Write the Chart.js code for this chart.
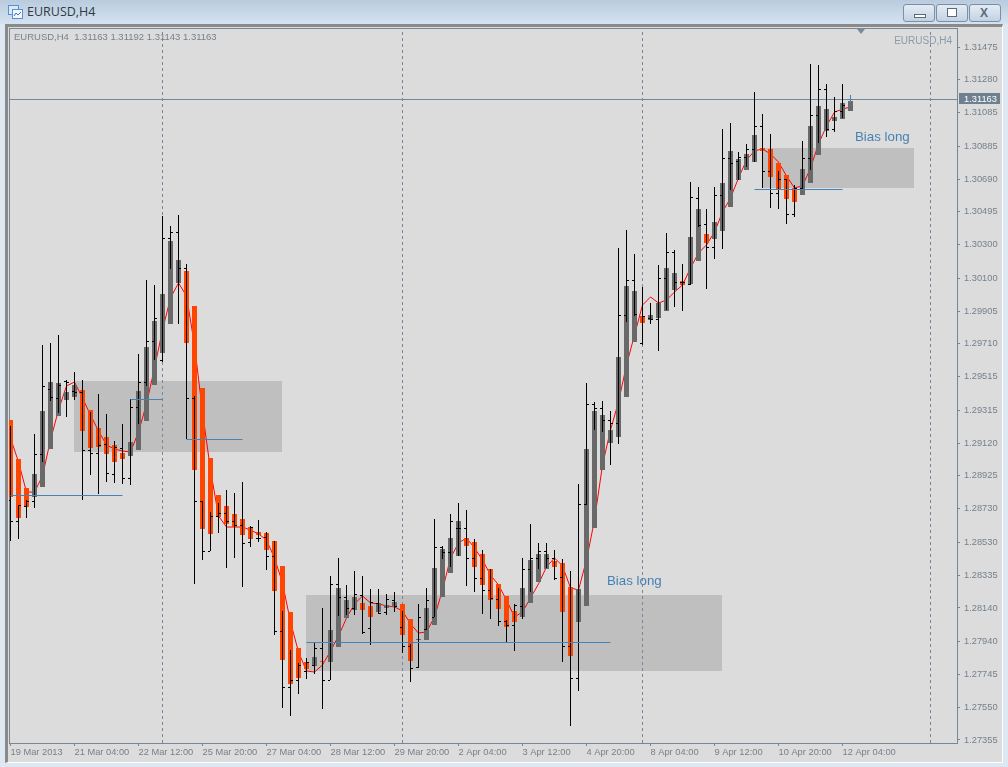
<!DOCTYPE html>
<html>
<head>
<meta charset="utf-8">
<title>EURUSD,H4</title>
<script src="https://cdn.jsdelivr.net/npm/chart.js@4/dist/chart.umd.min.js"></script>
<style>
  html, body { margin: 0; padding: 0; }
  body { width: 1008px; height: 767px; position: relative; overflow: hidden; background: #dde8f3; font-family: "Liberation Sans", sans-serif; }
  #titlebar { position: absolute; left: 0; top: 0; width: 1008px; height: 24px; background: linear-gradient(#b9cbdd, #d4e3f1); }
  #title { position: absolute; left: 27px; top: 3px; font: 12.5px "Open Sans", sans-serif; color: #303a44; }
  #icon { position: absolute; left: 8px; top: 5px; }
  .btn { position: absolute; top: 4px; width: 30px; height: 16px; border: 1px solid #7c8ea2; border-radius: 3px; background: linear-gradient(#e3ecf5, #c3d2e2); }
  .btn i { position: absolute; display: block; }
  #frame { position: absolute; left: 5px; top: 24px; width: 994px; height: 735px; background: #dcdcdc; border-left: 3px solid #8a8a8a; border-top: 3px solid #8a8a8a; border-right: 1px solid #fff; border-bottom: 1px solid #fff; }
  #plotbox { position: absolute; left: 9px; top: 28px; width: 947px; height: 714px; border: 1px solid #76879a; }
  canvas { position: absolute; left: 0; top: 0; }
  #header { position: absolute; left: 14px; top: 31px; font-size: 9.5px; color: #76818c; white-space: pre; }
  #mark { position: absolute; right: 56px; top: 35px; font-size: 10px; color: #8a9bab; }
  #shift { position: absolute; left: 857px; top: 29px; width: 0; height: 0; border-left: 4.5px solid transparent; border-right: 4.5px solid transparent; border-top: 5px solid #7c8a98; }
</style>
</head>
<body>
<div id="titlebar">
  <svg id="icon" width="15" height="14"><rect x="0.5" y="0.5" width="10" height="9" fill="#dbe8fa" stroke="#5a8fd8"/><rect x="4.5" y="4.5" width="10" height="9" fill="#f4f8fd" stroke="#5a8fd8"/><path d="M6 11 L8 8 L10 10 L13 7" fill="none" stroke="#3a6fb8"/></svg>
  <div id="title">EURUSD,H4</div>
  <div class="btn" style="left:903px"><i style="left:10px;top:9px;width:10px;height:2px;border:1px solid #5b6b7c;background:#fff"></i></div>
  <div class="btn" style="left:936px"><i style="left:10px;top:3px;width:8px;height:7px;border:1px solid #5b6b7c;background:#fff"></i></div>
  <div class="btn" style="left:969px"><i style="left:10px;top:2px;font:bold 12px 'Liberation Sans';color:#5b6b7c;font-style:normal;line-height:12px">X</i></div>
</div>
<div id="frame"></div>
<div id="plotbox"></div>
<canvas id="chart" width="1008" height="767"></canvas>
<div id="header">EURUSD,H4  1.31163 1.31192 1.31143 1.31163</div>
<div id="mark">EURUSD,H4</div>
<div id="shift"></div>
<script>
// price axis
var yTickLabels = [1.31475, 1.31280, 1.31085, 1.30885, 1.30690, 1.30495, 1.30300, 1.30100, 1.29905, 1.29710, 1.29515,
    1.29315, 1.29120, 1.28925, 1.28730, 1.28530, 1.28335, 1.28140, 1.27940, 1.27745, 1.27550, 1.27355];
var yMin = 1.27337, yMax = 1.31588;

// time axis, one tick every 8 bars
var timeLabels = ['19 Mar 2013', '21 Mar 04:00', '22 Mar 12:00', '25 Mar 20:00', '27 Mar 04:00', '28 Mar 12:00', '29 Mar 20:00',
    '2 Apr 04:00', '3 Apr 12:00', '4 Apr 20:00', '8 Apr 04:00', '9 Apr 12:00', '10 Apr 20:00', '12 Apr 04:00'];
var timeTickBars = [0, 8, 16, 24, 32, 40, 48, 56, 64, 72, 80, 88, 96, 104];

// OHLC bars
var highs = [1.29222,1.28752,1.28782,1.29174,1.29703,1.29715,1.29763,1.29495,1.29543,1.29495,
    1.29305,1.29412,1.29293,1.29133,1.29234,1.29382,1.29650,1.30090,1.30060,1.30470,
    1.30411,1.30476,1.30185,1.29400,1.28776,1.28711,1.28764,1.28841,1.28824,1.28889,
    1.28627,1.28663,1.28592,1.28538,1.28122,1.27890,1.27813,1.27843,1.27938,1.28140,
    1.28330,1.28437,1.28277,1.28360,1.28330,1.28253,1.28253,1.28223,1.28235,1.28122,
    1.27926,1.28164,1.28259,1.28669,1.28508,1.28699,1.28764,1.28722,1.28550,1.28485,
    1.28372,1.28259,1.28069,1.28164,1.28437,1.28639,1.28526,1.28526,1.28485,1.28431,
    1.28360,1.28877,1.29478,1.29365,1.29370,1.29311,1.30280,1.30387,1.30244,1.30048,
    1.29953,1.30179,1.30369,1.30268,1.30185,1.30672,1.30643,1.30512,1.30643,1.30988,
    1.31023,1.30851,1.30898,1.31208,1.31077,1.30958,1.30738,1.30690,1.30655,1.30916,
    1.31374,1.31368,1.31255,1.31178,1.31255,1.31192];
var lows = [1.28538,1.28550,1.28675,1.28734,1.29008,1.29370,1.29299,1.29275,1.29376,1.28782,
    1.28931,1.28818,1.28889,1.28883,1.28877,1.28871,1.29234,1.29460,1.29614,1.29602,
    1.30155,1.29828,1.29145,1.28283,1.28425,1.28479,1.28586,1.28378,1.28437,1.28265,
    1.28503,1.28532,1.28366,1.27979,1.27545,1.27498,1.27629,1.27718,1.27748,1.27539,
    1.27712,1.28092,1.28098,1.28098,1.27985,1.27920,1.28104,1.28098,1.28116,1.27872,
    1.27700,1.27783,1.28009,1.28086,1.28431,1.28384,1.28449,1.28271,1.28235,1.28104,
    1.28074,1.28033,1.27938,1.27884,1.28074,1.28235,1.28372,1.28378,1.28306,1.27819,
    1.27438,1.27646,1.28752,1.29198,1.29186,1.28990,1.29115,1.29840,1.29876,1.29703,
    1.29828,1.29668,1.29911,1.29929,1.29906,1.30060,1.30405,1.30036,1.30215,1.30274,
    1.30625,1.30684,1.30762,1.30791,1.30637,1.30518,1.30512,1.30423,1.30464,1.30625,
    1.30744,1.30904,1.30940,1.30970,1.31053,1.31143];
var opens = [1.28782,1.28657,1.28746,1.28776,1.29055,1.29442,1.29388,1.29489,1.29430,1.29424,
    1.29079,1.29061,1.29115,1.28937,1.29091,1.28913,1.29335,1.29483,1.29727,1.29614,
    1.30340,1.30375,1.30161,1.29388,1.28776,1.28479,1.28687,1.28705,1.28657,1.28633,
    1.28532,1.28556,1.28562,1.28449,1.28003,1.27670,1.27712,1.27765,1.27801,1.27902,
    1.27712,1.28283,1.28205,1.28140,1.28217,1.28021,1.28170,1.28116,1.28187,1.28027,
    1.27914,1.27789,1.28015,1.28086,1.28503,1.28473,1.28615,1.28615,1.28437,1.28318,
    1.28247,1.28193,1.28063,1.28039,1.28152,1.28372,1.28437,1.28479,1.28437,1.28324,
    1.27914,1.27724,1.28758,1.29353,1.29329,1.29257,1.29240,1.29882,1.30090,1.29715,
    1.29864,1.29858,1.30102,1.30256,1.30078,1.30066,1.30577,1.30423,1.30286,1.30595,
    1.30815,1.30797,1.30821,1.30869,1.31005,1.30738,1.30607,1.30690,1.30482,1.30637,
    1.30815,1.31071,1.31225,1.30988,1.31094,1.31163];
var closes = [1.28657,1.28752,1.28776,1.29055,1.29460,1.29394,1.29466,1.29483,1.29424,1.29079,
    1.29061,1.29109,1.28942,1.29097,1.28913,1.29335,1.29483,1.29727,1.29864,1.30340,
    1.30375,1.30161,1.29388,1.28776,1.28479,1.28687,1.28705,1.28657,1.28633,1.28526,
    1.28621,1.28556,1.28449,1.28003,1.27670,1.27712,1.27801,1.27819,1.27902,1.27712,
    1.28283,1.28205,1.28140,1.28223,1.27997,1.28176,1.28110,1.28193,1.28152,1.27914,
    1.27783,1.28086,1.28187,1.28503,1.28473,1.28657,1.28615,1.28437,1.28318,1.28247,
    1.28199,1.28063,1.28039,1.28158,1.28372,1.28437,1.28479,1.28437,1.28318,1.27914,
    1.27724,1.28758,1.29353,1.29329,1.29257,1.29240,1.29882,1.30090,1.29888,1.29876,
    1.29858,1.30102,1.30256,1.30078,1.30078,1.30583,1.30417,1.30286,1.30595,1.30815,
    1.30785,1.30821,1.30869,1.31005,1.30738,1.30607,1.30690,1.30482,1.30637,1.30815,
    1.31071,1.31225,1.30988,1.31094,1.31130,1.31163];

// thick candle bodies (orange when close < open)
var bodyOpens = [1.29257,1.29026,1.28853,1.28800,1.28859,1.29085,1.29281,1.29376,1.29394,1.29436,
    1.29317,1.29210,1.29156,1.29109,1.29061,1.29043,1.29079,1.29252,1.29466,1.29656,
    1.29828,1.30072,1.30143,1.29936,1.29448,1.29032,1.28812,1.28746,1.28699,1.28669,
    1.28621,1.28592,1.28586,1.28538,1.28390,1.28116,1.27902,1.27819,1.27795,1.27825,
    1.27819,1.27908,1.28080,1.28128,1.28170,1.28152,1.28116,1.28140,1.28146,1.28164,
    1.28074,1.27950,1.27950,1.28039,1.28205,1.28348,1.28449,1.28556,1.28532,1.28461,
    1.28372,1.28283,1.28211,1.28122,1.28086,1.28170,1.28294,1.28372,1.28419,1.28407,
    1.28265,1.28057,1.28152,1.28615,1.28960,1.29121,1.29156,1.29394,1.29721,1.29876,
    1.29852,1.29864,1.29906,1.30030,1.30084,1.30066,1.30203,1.30363,1.30333,1.30381,
    1.30524,1.30684,1.30744,1.30791,1.30874,1.30869,1.30785,1.30714,1.30637,1.30595,
    1.30666,1.30833,1.30976,1.31035,1.31047,1.31094];
var bodyCloses = [1.28800,1.28675,1.28740,1.28937,1.29311,1.29483,1.29478,1.29424,1.29466,1.29192,
    1.29091,1.29097,1.29055,1.29008,1.29026,1.29127,1.29430,1.29692,1.29846,1.30007,
    1.30321,1.30209,1.29715,1.28960,1.28611,1.28580,1.28681,1.28639,1.28621,1.28574,
    1.28550,1.28574,1.28485,1.28241,1.27831,1.27688,1.27724,1.27777,1.27849,1.27819,
    1.28009,1.28259,1.28187,1.28205,1.28128,1.28086,1.28170,1.28158,1.28176,1.27979,
    1.27825,1.27956,1.28140,1.28378,1.28491,1.28556,1.28657,1.28508,1.28384,1.28277,
    1.28187,1.28134,1.28027,1.28057,1.28259,1.28425,1.28461,1.28461,1.28384,1.28116,
    1.27855,1.28253,1.29085,1.29311,1.29287,1.29198,1.29632,1.30054,1.30024,1.29834,
    1.29882,1.29953,1.30161,1.30131,1.30060,1.30345,1.30512,1.30310,1.30435,1.30666,
    1.30857,1.30809,1.30839,1.30952,1.30857,1.30702,1.30631,1.30571,1.30554,1.30750,
    1.31005,1.31124,1.31106,1.31059,1.31142,1.31154];

// red moving average
var maValues = [1.29150,1.29008,1.28829,1.28829,1.28925,1.29139,1.29317,1.29460,1.29483,1.29388,
    1.29287,1.29192,1.29109,1.29085,1.29073,1.29067,1.29186,1.29353,1.29567,1.29793,
    1.29983,1.30072,1.29995,1.29703,1.29305,1.28960,1.28687,1.28621,1.28621,1.28621,
    1.28603,1.28580,1.28544,1.28437,1.28288,1.28057,1.27878,1.27765,1.27759,1.27801,
    1.27884,1.27973,1.28080,1.28164,1.28211,1.28170,1.28164,1.28152,1.28146,1.28122,
    1.28045,1.27991,1.27997,1.28086,1.28247,1.28437,1.28526,1.28556,1.28497,1.28425,
    1.28336,1.28277,1.28187,1.28086,1.28116,1.28199,1.28283,1.28384,1.28437,1.28390,
    1.28259,1.28247,1.28425,1.28663,1.28990,1.29198,1.29365,1.29584,1.29763,1.29941,
    1.29989,1.29953,1.29971,1.30018,1.30060,1.30161,1.30250,1.30298,1.30375,1.30494,
    1.30577,1.30696,1.30803,1.30857,1.30869,1.30839,1.30791,1.30708,1.30637,1.30649,
    1.30756,1.30898,1.31005,1.31088,1.31106,1.31118];

// drawn objects on the chart (x in bars)
var zoneStart = [7.94, 36.94, 93.94];
var zoneEnd = [33.94, 88.94, 112.94];
var zoneTop = [1.29489, 1.28217, 1.30874];
var zoneBottom = [1.29067, 1.27765, 1.30637];
var trendStart = [0, 15, 22, 37, 93];
var trendEnd = [14, 19, 29, 75, 104];
var trendPrice = [1.28812, 1.29382, 1.29145, 1.27938, 1.30631];
var separatorBars = [19, 49, 79, 115];
var biasLabels = ['Bias long', 'Bias long'];
var biasBars = [74.56, 105.56];
var biasPrices = [1.28277, 1.30916];
var lastPrice = 1.31163;

var xMin = -0.1875, xMax = 118.3125;
var tickShift = 0.1875;
var grey = '#696969', orange = '#ff4500', blue = '#4682b4', slate = '#76879a';

function lineSet(points, color, order, extra) {
    return Object.assign({
        type: 'line', data: points, borderColor: color, borderWidth: 1, pointRadius: 0,
        tension: 0, fill: false, order: order, snap: 'line'
    }, extra || {});
}

var datasets = [];

// grey zones
zoneStart.forEach(function (s, i) {
    datasets.push(lineSet([{ x: s, y: zoneTop[i] }, { x: zoneEnd[i], y: zoneTop[i] }], 'rgba(0,0,0,0)', 20, {
        fill: { target: { value: zoneBottom[i] } }, backgroundColor: '#bfbfbf', borderWidth: 0, snap: 'fill'
    }));
});

// period separators
separatorBars.forEach(function (b) {
    datasets.push(lineSet([{ x: b, y: yMin }, { x: b, y: yMax }], slate, 15, { borderDash: [3, 3], snap: null }));
});

// last price line
datasets.push(lineSet([{ x: xMin, y: lastPrice }, { x: xMax, y: lastPrice }], slate, 14));

// moving average
datasets.push(lineSet(maValues.map(function (v, i) { return { x: i, y: v }; }), '#ff0000', 12, { snap: null }));

// candle bodies
datasets.push({
    type: 'bar', order: 10, grouped: false, maxBarThickness: 5, barPercentage: 1, categoryPercentage: 1,
    inflateAmount: 0, borderWidth: 0, snap: 'bar',
    data: bodyOpens.map(function (v, i) { return { x: i, y: [v, bodyCloses[i]] }; }),
    backgroundColor: bodyOpens.map(function (v, i) { return bodyCloses[i] < v ? orange : grey; })
});

// high-low wicks, last forming bar in blue
datasets.push({
    type: 'bar', order: 9, grouped: false, maxBarThickness: 1, barPercentage: 1, categoryPercentage: 1,
    inflateAmount: 0, borderWidth: 0, snap: 'bar',
    data: highs.map(function (v, i) { return { x: i, y: [lows[i], v] }; }),
    backgroundColor: highs.map(function (v, i) { return i === highs.length - 1 ? blue : '#000'; })
});

// open ticks on the left, close ticks on the right
function tickSet(values, side) {
    return {
        type: 'line', showLine: false, order: 8, snap: 'line',
        data: values.map(function (v, i) { return { x: i + side * tickShift, y: v }; }),
        pointStyle: 'line', pointRadius: 1, pointBorderWidth: 1,
        pointBorderColor: values.map(function (v, i) { return i === values.length - 1 ? blue : '#000'; })
    };
}
datasets.push(tickSet(opens, -1));
datasets.push(tickSet(closes, 1));

// blue trend lines
trendStart.forEach(function (s, i) {
    datasets.push(lineSet([{ x: s, y: trendPrice[i] }, { x: trendEnd[i], y: trendPrice[i] }], blue, 5));
});

// keep the marks on whole pixels like the terminal does
var snapPlugin = {
    id: 'snap',
    afterDatasetsUpdate: function (chart) {
        chart.data.datasets.forEach(function (ds, n) {
            if (!ds.snap) return;
            chart.getDatasetMeta(n).data.forEach(function (el) {
                if (ds.snap === 'bar') {
                    el.y = Math.round(el.y);
                    el.base = Math.round(el.base);
                    if (el.y === el.base) el.base = el.y + 1;
                } else if (ds.snap === 'fill') {
                    el.y = Math.round(el.y);
                } else {
                    el.y = Math.round(el.y) + 0.5;
                }
            });
        });
    }
};

// "Bias long" text and the price box on the axis
var labelPlugin = {
    id: 'labels',
    afterDraw: function (chart) {
        var ctx = chart.ctx, xs = chart.scales.x, ys = chart.scales.y;
        ctx.save();
        ctx.font = '13.3px "Liberation Sans"';
        ctx.fillStyle = blue;
        ctx.textBaseline = 'alphabetic';
        biasLabels.forEach(function (t, i) {
            ctx.fillText(t, xs.getPixelForValue(biasBars[i]), ys.getPixelForValue(biasPrices[i]));
        });
        var py = Math.round(ys.getPixelForValue(lastPrice));
        ctx.fillStyle = '#6f8090';
        ctx.fillRect(959, py - 6, 41, 11);
        ctx.fillStyle = '#fff';
        ctx.font = '9.3px "Liberation Sans"';
        ctx.textBaseline = 'middle';
        ctx.fillText(lastPrice.toFixed(5), 964, py);
        ctx.restore();
    }
};

new Chart(document.getElementById('chart').getContext('2d'), {
    data: { datasets: datasets },
    plugins: [snapPlugin, labelPlugin],
    options: {
        responsive: false,
        animation: false,
        devicePixelRatio: 1,
        events: [],
        layout: { padding: { left: 9, top: 28, right: 0, bottom: 0 } },
        plugins: { legend: { display: false }, tooltip: { enabled: false }, title: { display: false } },
        scales: {
            x: {
                type: 'linear', min: xMin, max: xMax, offset: false,
                grid: { offset: false, drawOnChartArea: false, drawTicks: true, tickLength: 3, color: slate },
                border: { display: false },
                afterBuildTicks: function (scale) {
                    scale.ticks = timeTickBars.map(function (b) { return { value: b }; });
                },
                afterFit: function (scale) {
                    scale.height = 24;
                    scale.paddingLeft = 0;
                    scale.paddingRight = 0;
                },
                ticks: {
                    autoSkip: false, maxRotation: 0, minRotation: 0, align: 'start', padding: 1,
                    color: '#75818d', font: { family: '"Liberation Sans"', size: 9.3 },
                    callback: function (v, i) { return timeLabels[i]; }
                }
            },
            y: {
                type: 'linear', position: 'right', min: yMin, max: yMax,
                grid: { drawOnChartArea: false, drawTicks: true, tickLength: 3, color: slate },
                border: { display: false },
                afterBuildTicks: function (scale) {
                    scale.ticks = yTickLabels.map(function (v) { return { value: v }; });
                },
                afterFit: function (scale) {
                    scale.width = 51;
                    scale.paddingTop = 0;
                    scale.paddingBottom = 0;
                },
                ticks: {
                    autoSkip: false, padding: 4,
                    color: '#75818d', font: { family: '"Liberation Sans"', size: 9.3 },
                    callback: function (v) { return v.toFixed(5); }
                }
            }
        }
    }
});
</script>
</body>
</html>
